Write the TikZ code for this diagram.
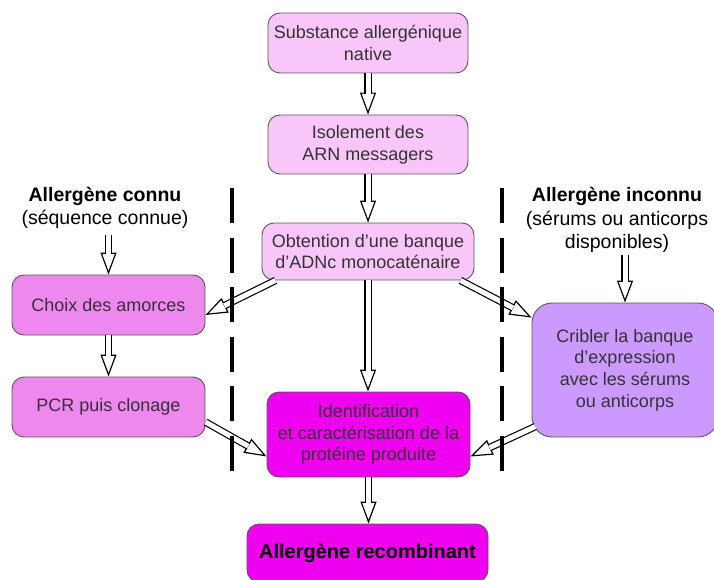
\documentclass[tikz,border=0pt]{standalone}
\usepackage{fontspec}
\setmainfont{Liberation Sans}
\usetikzlibrary{arrows.meta}

\definecolor{palepink}{RGB}{248,198,248}
\definecolor{midpink}{RGB}{238,136,238}
\definecolor{magentabox}{RGB}{240,0,240}
\definecolor{lavender}{RGB}{204,153,255}

\tikzset{
  box/.style={draw=black!65, line width=0.9pt, rounded corners=12pt, align=center,
    text=black!80, font=\fontsize{18}{21.7}\selectfont, inner sep=0pt},
  sidetext/.style={align=center, font=\fontsize{19.5}{23.5}\selectfont, inner sep=0pt},
  hollow/.style={line width=1.2pt, -{Triangle[open, length=22pt, width=16pt]},
    postaction={draw, -, double=white, double distance=5pt, shorten >=21pt}},
  separator/.style={line width=4pt, dash pattern=on 35pt off 14.5pt}
}

\begin{document}
\begin{tikzpicture}[x=1pt, y=-1pt]

  \path[use as bounding box, clip] (0,0) rectangle (714,580);

  % Centre column
  \node (subst) at (368,43) [box, fill=palepink, minimum width=200pt, minimum height=60pt]
    {Substance allergénique\\native};
  \node (iso) at (368,144.5) [box, fill=palepink, minimum width=200pt, minimum height=59pt]
    {Isolement des\\ARN messagers};
  \node (obt) at (368,251.5) [box, fill=palepink, minimum width=212pt, minimum height=57pt]
    {Obtention d'une banque\\d'ADNc monocaténaire};
  \node (ident) at (368.5,434.5) [box, fill=magentabox, minimum width=203pt, minimum height=85pt]
    {Identification\\et caractérisation de la\\protéine produite};
  \node (recomb) at (367.5,553) [box, fill=magentabox, minimum width=241pt, minimum height=58pt,
    font=\fontsize{20}{24}\selectfont\bfseries, text=black] {Allergène recombinant};

  % Left column
  \node (connu) at (105,208) [sidetext] {\textbf{Allergène connu}\\(séquence connue)};
  \node (choix) at (108.5,305) [box, fill=midpink, minimum width=193pt, minimum height=60pt]
    {Choix des amorces};
  \node (pcr) at (108.5,407) [box, fill=midpink, minimum width=193pt, minimum height=60pt]
    {PCR puis clonage};

  % Right column
  \node (inconnu) at (617,220) [sidetext]
    {\textbf{Allergène inconnu}\\(sérums ou anticorps\\disponibles)};
  \node (crib) at (625,370) [box, fill=lavender, rounded corners=20pt, minimum width=186pt,
    minimum height=134pt] {Cribler la banque\\d'expression\\avec les sérums\\ou anticorps};

  % Arrows
  \draw[hollow] (subst) -- (iso);
  \draw[hollow] (iso) -- (obt);
  \draw[hollow] (obt.south) -- (obt.south |- ident.north);
  \draw[hollow] (ident.south) -- (ident.south |- recomb.north);
  \draw[hollow] ([yshift=-6pt]connu.south -| choix.north) -- (choix.north);
  \draw[hollow] (choix) -- (pcr);
  \draw[hollow] ([yshift=-2pt]inconnu.south -| crib.north) -- (crib.north);
  \draw[hollow] ([xshift=14pt]obt.south west) -- ([yshift=-10pt]choix.east);
  \draw[hollow] ([xshift=-14pt]obt.south east) -- ([yshift=-15pt]crib.north west);
  \draw[hollow] ([yshift=-15pt]pcr.east) -- ([yshift=-22pt]ident.west);
  \draw[hollow] ([shift={(4pt,11pt)}]crib.south west) -- ([yshift=-22pt]ident.east);

  % Dashed separators
  \draw[separator] (232,188) -- (232,472);
  \draw[separator] (502,188) -- (502,472);

\end{tikzpicture}
\end{document}
